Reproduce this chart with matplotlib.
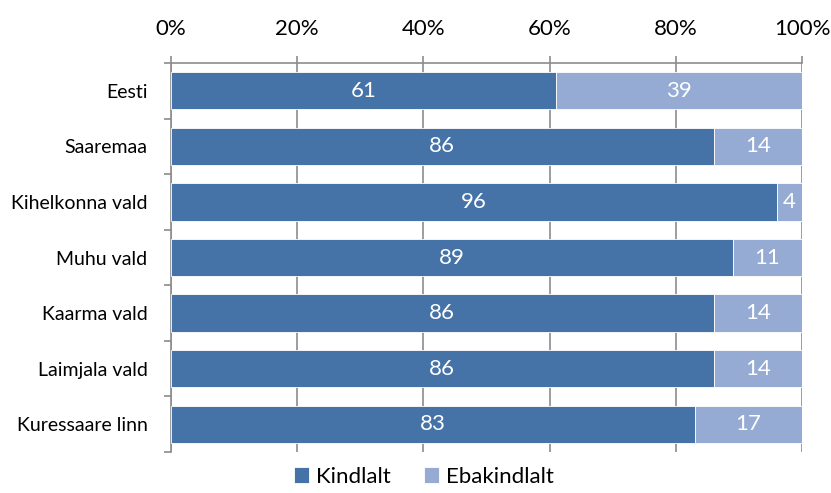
import matplotlib
matplotlib.use("Agg")
import matplotlib.pyplot as plt
import numpy as np

plt.rcParams['font.family'] = ['Lato', 'DejaVu Sans']

regions = ["Eesti", "Saaremaa", "Kihelkonna vald", "Muhu vald",
           "Kaarma vald", "Laimjala vald", "Kuressaare linn"]
kindlalt = [61, 86, 96, 89, 86, 86, 83]
ebakindlalt = [39, 14, 4, 11, 14, 14, 17]
ticks = [0, 20, 40, 60, 80, 100]

dark = "#4573A7"
light = "#95ABD3"
grid = "#8c8c8c"

fig = plt.figure(figsize=(8.31, 4.93), dpi=100)
ax = fig.add_axes([171/831, 1-452/493, (802-171)/831, (452-63)/493])

y = np.arange(len(regions))
b1 = ax.barh(y, kindlalt, height=0.67, color=dark, edgecolor="white", linewidth=0.6,
             label="Kindlalt", zorder=3)
b2 = ax.barh(y, ebakindlalt, left=kindlalt, height=0.67, color=light, edgecolor="white",
             linewidth=0.6, label="Ebakindlalt", zorder=3)

for i in range(len(regions)):
    ax.text(kindlalt[i] / 2, y[i], str(kindlalt[i]), color="white", fontsize=16,
            ha="center", va="center", zorder=4)
    ax.text(kindlalt[i] + ebakindlalt[i] / 2, y[i], str(ebakindlalt[i]), color="white",
            fontsize=16, ha="center", va="center", zorder=4)

ax.set_xlim(0, 100)
ax.set_ylim(len(regions) - 0.5, -0.5)
ax.xaxis.tick_top()
ax.set_xticks(ticks)
ax.set_xticklabels([f"{t}%" for t in ticks], fontsize=16)
ax.tick_params(axis="x", direction="out", length=5, color=grid, width=1.2, pad=12)
ax.grid(axis="x", color=grid, linewidth=1.2, zorder=0)

ax.set_yticks(y)
ax.set_yticklabels(regions, fontsize=14)
ax.tick_params(axis="y", which="major", length=0, pad=17)
ax.set_yticks(np.arange(-0.5, len(regions), 1), minor=True)
ax.tick_params(axis="y", which="minor", direction="out", length=5, color=grid, width=1.2)

for s in ["right", "bottom"]:
    ax.spines[s].set_visible(False)
for s in ["top", "left"]:
    ax.spines[s].set_color(grid)
    ax.spines[s].set_linewidth(1.2)

fig.legend(handles=[b1, b2], loc="lower center", bbox_to_anchor=(0.51, -0.028), ncol=2,
           frameon=False, fontsize=16, handlelength=0.7, handleheight=0.7,
           handletextpad=0.3, columnspacing=1.5)

fig.savefig("out.png", dpi=100)
